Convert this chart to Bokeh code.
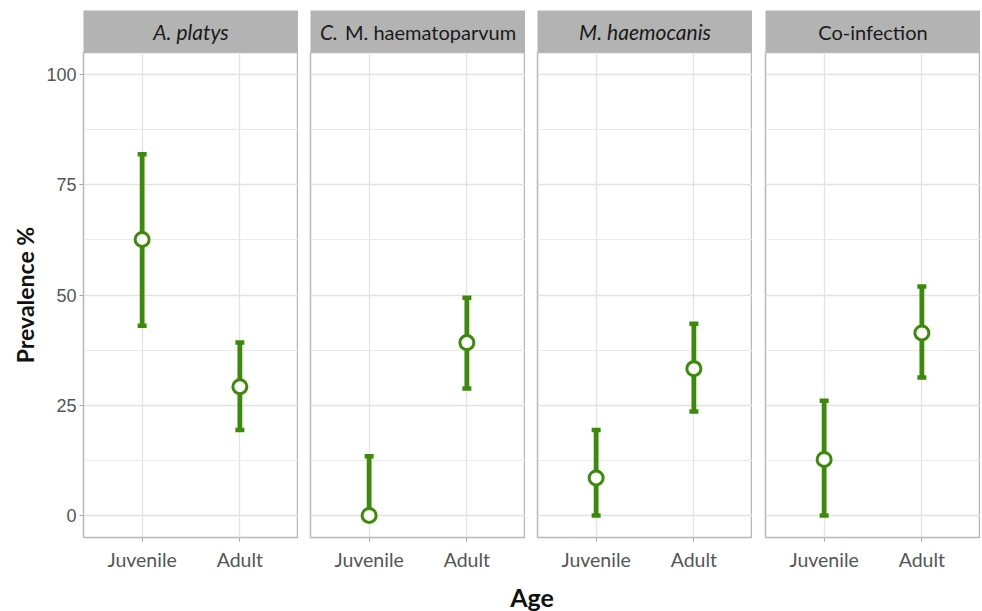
from bokeh.plotting import figure
from bokeh.layouts import row, column
from bokeh.models import (FactorRange, Range1d, Whisker, ColumnDataSource,
                          FixedTicker, Grid, TeeHead)
from bokeh.core.properties import value
from bokeh.embed import file_html
from bokeh.resources import INLINE

# ---------------- data ----------------
ages = ["Juvenile", "Adult"]

strip_italic = ["A. platys", "C.", "M. haemocanis", ""]
strip_roman = ["", "M. haematoparvum", "", "Co-infection"]

a_platys_est = [62.6, 29.2]
a_platys_low = [43.0, 19.4]
a_platys_up = [81.9, 39.2]

cmh_est = [0.0, 39.2]
cmh_low = [0.0, 28.8]
cmh_up = [13.4, 49.4]

mhc_est = [8.5, 33.3]
mhc_low = [0.0, 23.6]
mhc_up = [19.4, 43.5]

coinf_est = [12.7, 41.4]
coinf_low = [0.0, 31.3]
coinf_up = [26.0, 51.9]

y_ticks = [0, 25, 50, 75, 100]
y_minor = [12.5, 37.5, 62.5, 87.5]

panels = [
    (a_platys_est, a_platys_low, a_platys_up),
    (cmh_est, cmh_low, cmh_up),
    (mhc_est, mhc_low, mhc_up),
    (coinf_est, coinf_low, coinf_up),
]

# ---------------- style ----------------
GREEN = "#3B8A0A"
FRAME_W = 215
FRAME_H = 485
STRIP_H = 42
LEFT_BORDERS = [83, 12, 12, 13]
GRID_MAJOR = "#E2E2E2"
GRID_MINOR = "#EAEAEA"
BORDER = "#B8B8B8"
TICK_COL = "#A8A8A8"
LABEL_COL = "#555555"
STRIP_FONT = "Lato"

strips = []
plots = []
for i, (est, low, up) in enumerate(panels):
    # strip header
    s = figure(frame_width=FRAME_W, frame_height=STRIP_H,
               x_range=Range1d(0, 1), y_range=Range1d(0, 1),
               x_axis_location=None, y_axis_location=None,
               toolbar_location=None, output_backend="svg",
               min_border_left=LEFT_BORDERS[i], min_border_right=0,
               min_border_top=10, min_border_bottom=0)
    s.background_fill_color = "#B3B3B3"
    s.border_fill_color = "white"
    s.outline_line_color = None
    s.grid.visible = False
    it, ro = strip_italic[i], strip_roman[i]
    if it and ro:
        s.text(x=[0.5], y=[0.5], text=[it], text_align="left", text_baseline="middle",
               x_offset=-98, text_font=value(STRIP_FONT), text_font_style="italic",
               text_font_size="21px", text_color="#1A1A1A")
        s.text(x=[0.5], y=[0.5], text=[ro], text_align="left", text_baseline="middle",
               x_offset=-73, text_font=value(STRIP_FONT), text_font_style="normal",
               text_font_size="20px", text_color="#1A1A1A")
    else:
        s.text(x=[0.5], y=[0.5], text=[it or ro], text_align="center", text_baseline="middle",
               text_font=value(STRIP_FONT), text_font_style="italic" if it else "normal",
               text_font_size="21px" if it else "20px", text_color="#1A1A1A")
    strips.append(s)

    # panel
    p = figure(frame_width=FRAME_W, frame_height=FRAME_H,
               x_range=FactorRange(*ages, range_padding=0.1),
               y_range=Range1d(-5, 105),
               y_axis_location="left" if i == 0 else None,
               toolbar_location=None, output_backend="svg",
               min_border_left=LEFT_BORDERS[i], min_border_right=0,
               min_border_top=0, min_border_bottom=33)
    p.background_fill_color = "white"
    p.outline_line_color = BORDER
    p.outline_line_width = 1.5

    # grids
    if len(p.ygrid) == 0:
        p.add_layout(Grid(dimension=1, ticker=FixedTicker(ticks=y_ticks, minor_ticks=y_minor)))
    p.ygrid.ticker = FixedTicker(ticks=y_ticks, minor_ticks=y_minor)
    p.ygrid.grid_line_color = GRID_MAJOR
    p.ygrid.grid_line_width = 1.3
    p.ygrid.minor_grid_line_color = GRID_MINOR
    p.ygrid.minor_grid_line_width = 1.0
    p.xgrid.grid_line_color = GRID_MAJOR
    p.xgrid.grid_line_width = 1.3

    # x axis
    p.xaxis.axis_line_color = None
    p.xaxis.major_tick_line_color = TICK_COL
    p.xaxis.major_tick_out = 4
    p.xaxis.major_tick_in = 0
    p.xaxis.major_label_text_font = "Lato"
    p.xaxis.major_label_text_font_size = "19.5px"
    p.xaxis.major_label_text_color = LABEL_COL
    p.xaxis.major_label_standoff = 6

    if i == 0:
        p.yaxis.ticker = FixedTicker(ticks=y_ticks, minor_ticks=y_minor)
        p.yaxis.axis_line_color = None
        p.yaxis.major_tick_line_color = TICK_COL
        p.yaxis.major_tick_out = 4
        p.yaxis.major_tick_in = 0
        p.yaxis.minor_tick_line_color = None
        p.yaxis.major_label_text_font = "Liberation Sans"
        p.yaxis.major_label_text_font_size = "18px"
        p.yaxis.major_label_text_color = LABEL_COL
        p.yaxis.major_label_standoff = 3
        p.yaxis.axis_label = "Prevalence %"
        p.yaxis.axis_label_text_font = "Lato"
        p.yaxis.axis_label_text_font_style = "bold"
        p.yaxis.axis_label_text_font_size = "23px"
        p.yaxis.axis_label_text_color = "#111111"
        p.yaxis.axis_label_standoff = 4

    src = ColumnDataSource(dict(age=ages, est=est, low=low, up=up))
    head_u = TeeHead(size=9, line_color=GREEN, line_width=4.5)
    head_l = TeeHead(size=9, line_color=GREEN, line_width=4.5)
    w = Whisker(source=src, base="age", upper="up", lower="low", dimension="height",
                line_color=GREEN, line_width=4.8, upper_head=head_u, lower_head=head_l)
    p.add_layout(w)
    p.scatter(x="age", y="est", source=src, size=14, fill_color="white",
              line_color=GREEN, line_width=3)
    plots.append(p)

# shared x-axis title
age_fig = figure(frame_width=980 - 83, frame_height=1,
                 x_range=Range1d(0, 1), y_range=Range1d(0, 1),
                 y_axis_location=None, toolbar_location=None, output_backend="svg",
                 min_border_left=83, min_border_right=0, min_border_top=0, min_border_bottom=0)
age_fig.outline_line_color = None
age_fig.grid.visible = False
age_fig.xaxis.ticker = FixedTicker(ticks=[])
age_fig.xaxis.axis_line_color = None
age_fig.xaxis.major_tick_line_color = None
age_fig.xaxis.minor_tick_line_color = None
age_fig.xaxis.major_label_text_font_size = "0px"
age_fig.xaxis.axis_label = "Age"
age_fig.xaxis.axis_label_text_font = "Lato"
age_fig.xaxis.axis_label_text_font_style = "bold"
age_fig.xaxis.axis_label_text_font_size = "25px"
age_fig.xaxis.axis_label_text_color = "#111111"
age_fig.xaxis.axis_label_standoff = 7

layout = column(row(*strips, spacing=0), row(*plots, spacing=0), age_fig, spacing=0)

open("out.html", "w").write(file_html(layout, INLINE))
